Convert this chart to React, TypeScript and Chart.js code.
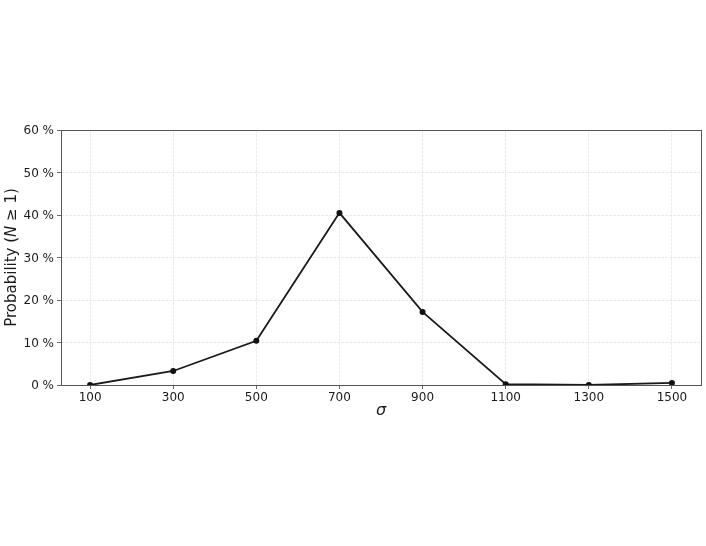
import React, { useEffect, useRef } from "react";
import { Chart, registerables } from "chart.js";

Chart.register(...registerables);

const sigmaValues = [100, 300, 500, 700, 900, 1100, 1300, 1500];
const probability = [0.0, 3.3, 10.4, 40.5, 17.2, 0.2, 0.0, 0.5];
const xTicks = [100, 300, 500, 700, 900, 1100, 1300, 1500];
const yTicks = [0, 10, 20, 30, 40, 50, 60];

const FONT = "'DejaVu Sans', sans-serif";

const framePlugin = {
  id: "frameAndTitles",
  afterDraw(chart: any) {
    const { ctx, chartArea } = chart;
    ctx.save();
    ctx.strokeStyle = "#555555";
    ctx.lineWidth = 1;
    ctx.strokeRect(
      Math.round(chartArea.left) + 0.5,
      Math.round(chartArea.top) + 0.5,
      Math.round(chartArea.right - chartArea.left),
      Math.round(chartArea.bottom - chartArea.top)
    );
    // x title
    ctx.fillStyle = "#1a1a1a";
    ctx.font = "italic 16px " + FONT;
    ctx.textAlign = "center";
    ctx.textBaseline = "middle";
    ctx.fillText("σ", (chartArea.left + chartArea.right) / 2, 411);
    // y title with italic N
    const parts = [
      { t: "Probability (", f: "15px " + FONT },
      { t: "N", f: "italic 15px " + FONT },
      { t: " ≥ 1)", f: "15px " + FONT },
    ];
    let total = 0;
    for (const p of parts) {
      ctx.font = p.f;
      total += ctx.measureText(p.t).width;
    }
    ctx.translate(12, (chartArea.top + chartArea.bottom) / 2);
    ctx.rotate(-Math.PI / 2);
    ctx.textAlign = "left";
    let x = -total / 2;
    for (const p of parts) {
      ctx.font = p.f;
      ctx.fillText(p.t, x, 0);
      x += ctx.measureText(p.t).width;
    }
    ctx.restore();
  },
};

export default function App() {
  const ref = useRef<HTMLCanvasElement>(null);
  useEffect(() => {
    document.body.style.margin = "0";
    const chart = new Chart(ref.current!, {
      type: "line",
      data: {
        datasets: [
          {
            data: sigmaValues.map((s, i) => ({ x: s, y: probability[i] })),
            borderColor: "#1a1a1a",
            backgroundColor: "#111111",
            borderWidth: 1.8,
            pointRadius: 3,
            pointBorderWidth: 0,
            tension: 0,
          },
        ],
      },
      options: {
        animation: false,
        responsive: false,
        maintainAspectRatio: false,
        layout: { padding: { top: 130, right: 5, left: 0, bottom: 0 } },
        plugins: {
          legend: { display: false },
          tooltip: { enabled: false },
        },
        scales: {
          x: {
            type: "linear",
            min: 30,
            max: 1570,
            afterBuildTicks: (scale: any) => {
              scale.ticks = xTicks.map((v) => ({ value: v }));
            },
            afterFit: (scale: any) => {
              scale.height = 161;
            },
            ticks: {
              color: "#1a1a1a",
              font: { size: 12, family: FONT },
              padding: 2,
              maxRotation: 0,
              callback: (v: any) => String(v),
            },
            grid: {
              color: "#e6e6e6",
              lineWidth: 0.8,
              tickLength: 4,
              tickColor: "#444444",
              tickBorderDash: [],
            },
            border: { display: false, dash: [3, 1] },
          },
          y: {
            type: "linear",
            min: 0,
            max: 60,
            afterBuildTicks: (scale: any) => {
              scale.ticks = yTicks.map((v) => ({ value: v }));
            },
            afterFit: (scale: any) => {
              scale.width = 61;
            },
            ticks: {
              color: "#1a1a1a",
              font: { size: 12, family: FONT },
              padding: 3,
              labelOffset: 1,
              callback: (v: any) => v + " %",
            },
            grid: {
              color: "#e6e6e6",
              lineWidth: 0.8,
              tickLength: 4,
              tickColor: "#444444",
              tickBorderDash: [],
            },
            border: { display: false, dash: [3, 1] },
          },
        },
      },
      plugins: [framePlugin],
    });
    return () => chart.destroy();
  }, []);
  return (
    <div style={{ width: 706, height: 546, background: "#ffffff" }}>
      <canvas ref={ref} width={706} height={546} style={{ display: "block" }} />
    </div>
  );
}
